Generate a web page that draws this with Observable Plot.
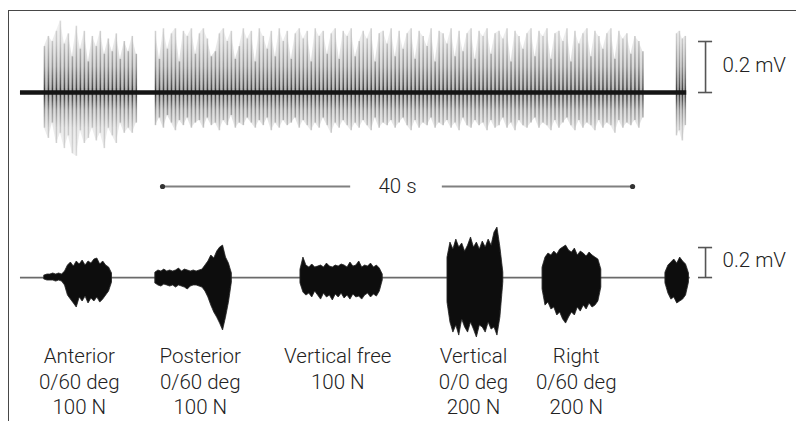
<!DOCTYPE html>
<html><head><meta charset="utf-8">
<script src="https://cdn.jsdelivr.net/npm/d3@7"></script>
<script src="https://cdn.jsdelivr.net/npm/@observablehq/plot@0.6"></script>
<style>
html,body{margin:0;padding:0;background:#fff;}
#wrap{position:relative;width:796px;height:421px;overflow:hidden;}
#chart{position:absolute;left:0;top:0;}
#frame{position:absolute;left:8px;top:10px;right:-3px;bottom:-3px;border-top:1.6px solid #474747;border-left:1.6px solid #474747;pointer-events:none;}
</style></head><body>
<div id="wrap"><div id="chart"></div><div id="frame"></div></div>
<script>
// ---- time (s) and voltage (mV) layout ----
const xDomain = [-1.70, 66.04];
const yDomain = [-1.29, 0.3608];
const topBase = 0;          // raw EMG trace baseline
const bottomBase = -0.7255; // processed trace baseline
const bottomGain = 0.588;   // display gain of lower trace relative to upper
const topSpan = [0, 56.7];
const bottomSpan = [0, 57.0];

// ---- upper trace: raw EMG spikes (mV) ----
const topSegStart = [2.04, 11.49, 55.83];
const topSegStep = [0.34, 0.34, 0.25];
const topUp1 = [0.18,0.22,0.20,0.24,0.28,0.19,0.23,0.14,0.26,0.17,0.24,0.12,0.22,0.18,0.24,0.15,0.21,0.16,0.23,0.13,0.20,0.16,0.22,0.15];
const topDown1 = [0.14,0.18,0.12,0.20,0.16,0.22,0.17,0.24,0.25,0.15,0.20,0.18,0.14,0.19,0.16,0.22,0.14,0.17,0.20,0.12,0.16,0.14,0.16,0.12];
const topUp2 = [
  0.24,0.13,0.25,0.17,0.23,0.25,0.12,0.24,0.22,0.25,0.15,0.23,
  0.25,0.21,0.14,0.16,0.23,0.25,0.20,0.24,0.13,0.18,0.25,0.21,
  0.24,0.12,0.25,0.22,0.17,0.24,0.14,0.25,0.20,0.24,0.13,0.23,
  0.25,0.21,0.24,0.12,0.25,0.22,0.24,0.15,0.23,0.25,0.13,0.24,
  0.22,0.25,0.14,0.20,0.24,0.21,0.25,0.12,0.23,0.24,0.19,0.25,
  0.14,0.24,0.17,0.23,0.25,0.13,0.24,0.22,0.18,0.25,0.12,0.24,
  0.23,0.19,0.25,0.14,0.24,0.16,0.23,0.25,0.13,0.24,0.22,0.25,
  0.15,0.23,0.24,0.21,0.25,0.12,0.24,0.22,0.17,0.23,0.25,0.14,
  0.24,0.22,0.25,0.13,0.23,0.24,0.20,0.25,0.12,0.24,0.19,0.23,
  0.25,0.14,0.24,0.22,0.17,0.23,0.25,0.13,0.24,0.21,0.23,0.15,
  0.22,0.20,0.16];
const topDown2 = [
  0.13,0.10,0.14,0.09,0.12,0.15,0.11,0.13,0.10,0.14,0.12,0.11,
  0.14,0.10,0.13,0.12,0.15,0.11,0.13,0.09,0.14,0.12,0.13,0.10,
  0.12,0.14,0.11,0.13,0.10,0.15,0.12,0.14,0.11,0.13,0.12,0.10,
  0.14,0.11,0.13,0.15,0.12,0.14,0.10,0.13,0.16,0.12,0.14,0.11,
  0.13,0.15,0.12,0.14,0.11,0.13,0.15,0.10,0.14,0.12,0.13,0.11,
  0.14,0.12,0.10,0.13,0.15,0.11,0.14,0.12,0.13,0.10,0.14,0.12,
  0.13,0.11,0.14,0.12,0.15,0.10,0.13,0.14,0.11,0.13,0.12,0.15,
  0.11,0.14,0.13,0.10,0.14,0.12,0.15,0.11,0.13,0.14,0.12,0.10,
  0.14,0.12,0.13,0.15,0.11,0.14,0.12,0.10,0.13,0.15,0.11,0.14,
  0.12,0.13,0.15,0.11,0.14,0.12,0.13,0.16,0.11,0.14,0.12,0.13,
  0.11,0.14,0.10];
const topUp3 = [0.23,0.24,0.21,0.22];
const topDown3 = [0.17,0.15,0.19,0.13];

// ---- lower trace: burst envelopes (mV), sampled every 0.25 s ----
const burstStep = 0.25;
const burstStart = [2.04, 11.49, 23.83, 36.34, 44.43, 54.89];
const burstUp1 = [0.013,0.02,0.02,0.027,0.02,0.027,0.02,0.04,0.08,0.10,0.073,0.107,0.087,0.113,0.08,0.107,0.093,0.12,0.127,0.087,0.107,0.08,0.067,0.027];
const burstDown1 = [0.013,0.02,0.02,0.02,0.027,0.02,0.027,0.053,0.12,0.147,0.173,0.20,0.133,0.16,0.127,0.173,0.14,0.16,0.133,0.167,0.147,0.12,0.093,0.033];
const burstUp2 = [0.033,0.047,0.04,0.053,0.04,0.047,0.04,0.047,0.06,0.04,0.053,0.047,0.04,0.047,0.04,0.047,0.053,0.08,0.107,0.147,0.127,0.173,0.20,0.213,0.133,0.093,0.027];
const burstDown2 = [0.04,0.053,0.06,0.047,0.053,0.06,0.053,0.067,0.053,0.06,0.067,0.08,0.06,0.053,0.053,0.06,0.067,0.093,0.133,0.187,0.233,0.267,0.307,0.353,0.267,0.167,0.033];
const burstUp3 = [0.053,0.133,0.08,0.067,0.087,0.067,0.073,0.08,0.067,0.093,0.073,0.067,0.08,0.073,0.087,0.08,0.067,0.10,0.073,0.08,0.107,0.067,0.08,0.073,0.093,0.067,0.08,0.06,0.02];
const burstDown3 = [0.04,0.10,0.12,0.107,0.133,0.093,0.12,0.147,0.107,0.133,0.12,0.153,0.113,0.133,0.107,0.14,0.12,0.147,0.113,0.133,0.127,0.147,0.12,0.107,0.133,0.113,0.127,0.093,0.02];
const burstUp4 = [0.133,0.233,0.187,0.253,0.20,0.227,0.173,0.213,0.267,0.20,0.233,0.187,0.24,0.20,0.253,0.213,0.30,0.333,0.20,0.033];
const burstDown4 = [0.167,0.30,0.367,0.32,0.387,0.28,0.333,0.367,0.30,0.347,0.40,0.32,0.333,0.367,0.30,0.347,0.333,0.387,0.267,0.033];
const burstUp5 = [0.067,0.133,0.16,0.147,0.173,0.153,0.187,0.20,0.213,0.18,0.167,0.193,0.147,0.173,0.16,0.14,0.167,0.147,0.133,0.12,0.053];
const burstDown5 = [0.08,0.187,0.167,0.213,0.20,0.253,0.233,0.28,0.307,0.267,0.233,0.253,0.20,0.227,0.187,0.213,0.173,0.20,0.187,0.16,0.067];
const burstUp6 = [0.033,0.08,0.10,0.12,0.093,0.133,0.107,0.087,0.027];
const burstDown6 = [0.04,0.107,0.147,0.133,0.173,0.16,0.147,0.12,0.033];

// ---- annotations ----
const scaleBarValue = 0.2;   // mV
const scaleBarX = 58.3;      // s
const scaleBarLabel = "0.2 mV";
const timeBarStart = 12.09, timeBarEnd = 52.09, timeBarLabel = "40 s";
const timeBarGap = [28.1, 35.9];
const timeBarY = -0.3686;
const conditionLabels = ["Anterior\n0/60 deg\n100 N", "Posterior\n0/60 deg\n100 N", "Vertical free\n100 N", "Vertical\n0/0 deg\n200 N", "Right\n0/60 deg\n200 N"];
const conditionX = [5.0, 15.3, 27.0, 38.55, 47.3];
const conditionY = -0.99;

// ---- build tables ----
const topSegs = [[topUp1, topDown1], [topUp2, topDown2], [topUp3, topDown3]];
const topSpikes = topSegs.flatMap(([up, down], s) =>
  up.map((u, i) => ({seg: s, t: topSegStart[s] + i * topSegStep[s], up: u, down: down[i]})));
const bursts = [[burstUp1, burstDown1], [burstUp2, burstDown2], [burstUp3, burstDown3],
                [burstUp4, burstDown4], [burstUp5, burstDown5], [burstUp6, burstDown6]];
const burstSamples = bursts.flatMap(([up, down], b) =>
  up.map((u, i) => ({burst: b, t: burstStart[b] + i * burstStep, up: u, down: down[i]})));
const scaleBars = [{base: topBase, gain: 1}, {base: bottomBase, gain: bottomGain}];
const timeSegs = [{x1: timeBarStart, x2: timeBarGap[0]}, {x1: timeBarGap[1], x2: timeBarEnd}];
const conditions = conditionLabels.map((label, i) => ({label, x: conditionX[i]}));

const font = "'Helvetica Neue', Roboto, 'Liberation Sans', sans-serif";
const ink = "#555";

const chart = Plot.plot({
  width: 796, height: 421,
  marginTop: 0, marginRight: 0, marginBottom: 0, marginLeft: 0,
  x: {domain: xDomain, axis: null},
  y: {domain: yDomain, axis: null},
  style: {background: "transparent", fontFamily: font},
  marks: [
    // upper raw trace haze + spikes
    Plot.areaY(topSpikes, {x: "t", y1: d => topBase - d.down, y2: d => topBase + d.up, z: "seg",
      fill: "url(#topGrad)", fillOpacity: 0.3, curve: "linear"}),
    Plot.ruleX(topSpikes, {x: "t", y1: d => topBase - d.down, y2: d => topBase + d.up,
      stroke: "url(#topGrad)", strokeWidth: 1.5, strokeOpacity: 0.8}),
    Plot.ruleY([{y: topBase, x1: topSpan[0], x2: topSpan[1]}], {y: "y", x1: "x1", x2: "x2", stroke: "#151515", strokeWidth: 4.5}),
    // lower processed trace
    Plot.ruleY([{y: bottomBase, x1: bottomSpan[0], x2: bottomSpan[1]}], {y: "y", x1: "x1", x2: "x2", stroke: "#6a6a6a", strokeWidth: 1.8}),
    Plot.areaY(burstSamples, {x: "t", y1: d => bottomBase - d.down * bottomGain, y2: d => bottomBase + d.up * bottomGain, z: "burst",
      fill: "#111", stroke: "#222", strokeWidth: 0.8, curve: "linear"}),
    // scale bars
    Plot.ruleX(scaleBars, {x: () => scaleBarX, y1: d => d.base, y2: d => d.base + scaleBarValue * d.gain, stroke: ink, strokeWidth: 1.6}),
    Plot.ruleY(scaleBars, {y: d => d.base, x1: () => scaleBarX - 0.6, x2: () => scaleBarX + 0.6, stroke: ink, strokeWidth: 1.6}),
    Plot.ruleY(scaleBars, {y: d => d.base + scaleBarValue * d.gain, x1: () => scaleBarX - 0.6, x2: () => scaleBarX + 0.6, stroke: ink, strokeWidth: 1.6}),
    Plot.text(scaleBars, {x: () => scaleBarX, y: d => d.base + scaleBarValue * d.gain / 2, text: () => scaleBarLabel,
      textAnchor: "start", dx: 17, dy: -2, fontSize: 20.5, fill: "#222", fontWeight: 300}),
    // 40 s time bar
    Plot.ruleY(timeSegs, {y: () => timeBarY, x1: "x1", x2: "x2", stroke: "#808080", strokeWidth: 2}),
    Plot.dot([timeBarStart, timeBarEnd], {x: d => d, y: () => timeBarY, r: 2.6, fill: "#333", stroke: null}),
    Plot.text([timeBarLabel], {x: () => (timeBarStart + timeBarEnd) / 2, y: () => timeBarY, text: d => d,
      fontSize: 20.5, fill: "#222", fontWeight: 300}),
    // condition labels
    Plot.text(conditions, {x: "x", y: () => conditionY, text: "label", lineAnchor: "top", lineHeight: 1.25,
      fontSize: 20.5, fill: "#222", fontWeight: 300})
  ]
});

// vertical gradient for the raw trace (dark at baseline, light at the tips)
const ys = chart.scale("y");
const gy1 = ys.apply(0.30), gy2 = ys.apply(-0.30);
const stops = [[0.30, "#d8d8d8"], [0.20, "#bcbcbc"], [0.10, "#808080"], [0.03, "#3a3a3a"], [0, "#111"],
               [-0.03, "#3a3a3a"], [-0.07, "#808080"], [-0.14, "#bcbcbc"], [-0.30, "#dcdcdc"]];
const defs = d3.select(chart).insert("defs", ":first-child");
const grad = defs.append("linearGradient").attr("id", "topGrad").attr("gradientUnits", "userSpaceOnUse")
  .attr("x1", 0).attr("x2", 0).attr("y1", gy1).attr("y2", gy2);
stops.forEach(([v, c]) => grad.append("stop").attr("offset", (ys.apply(v) - gy1) / (gy2 - gy1)).attr("stop-color", c));
// slight softening, like the scanned original
defs.append("filter").attr("id", "soft").attr("x", "-5%").attr("y", "-20%").attr("width", "110%").attr("height", "140%")
  .append("feGaussianBlur").attr("stdDeviation", 0.6);
const markGroups = chart.querySelectorAll(":scope > g[aria-label]");
[0, 1, 4].forEach(i => markGroups[i] && markGroups[i].setAttribute("filter", "url(#soft)"));

document.getElementById("chart").appendChild(chart);
</script>
</body></html>
